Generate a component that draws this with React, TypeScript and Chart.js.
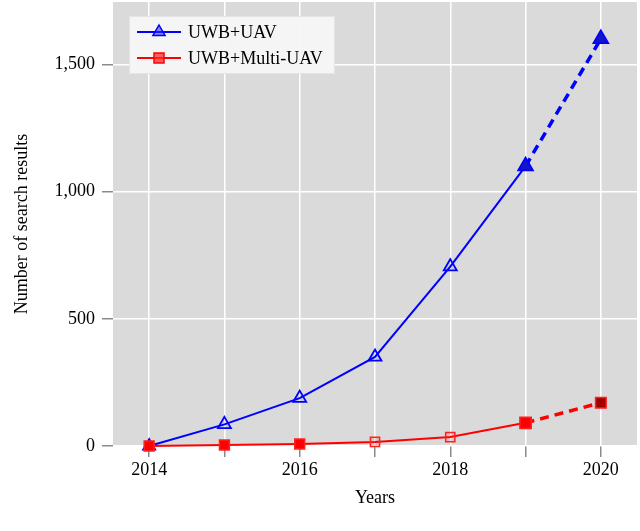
import React, { useEffect, useRef } from 'react';
import Chart from 'chart.js/auto';

const years = [2014, 2015, 2016, 2017, 2018, 2019, 2020];
const uwbUav = [0, 85, 188, 350, 705, 1100, 1600];
const uwbMultiUav = [0, 4, 8, 16, 35, 91, 170];
const yTicks = [0, 500, 1000, 1500];
const seriesNames = ['UWB+UAV', 'UWB+Multi-UAV'];
const xTitle = 'Years';
const yTitle = 'Number of search results';

const FONT = "'Liberation Serif', 'Times New Roman', serif";

// gray plot background, like pgfplots
const backgroundPlugin = {
  id: 'plotBackground',
  beforeDraw(chart: any) {
    const { ctx, chartArea } = chart;
    ctx.save();
    ctx.fillStyle = '#dadada';
    ctx.fillRect(chartArea.left, chartArea.top, chartArea.right - chartArea.left, chartArea.bottom - chartArea.top);
    ctx.restore();
  },
};

// legend box drawn inside the plot
const boxLegendPlugin = {
  id: 'boxLegend',
  afterDraw(chart: any) {
    const { ctx, chartArea } = chart;
    const x0 = chartArea.left + 16;
    const y0 = chartArea.top + 14;
    ctx.save();
    ctx.fillStyle = 'rgba(246,246,246,0.96)';
    ctx.fillRect(x0, y0, 206, 58);
    ctx.strokeStyle = '#e4e4e4';
    ctx.lineWidth = 1;
    ctx.strokeRect(x0 + 0.5, y0 + 0.5, 205, 57);

    chart.data.datasets.forEach((ds: any, i: number) => {
      const y = y0 + 16 + i * 26;
      const lx1 = x0 + 8;
      const lx2 = x0 + 52;
      const mx = (lx1 + lx2) / 2;
      ctx.strokeStyle = ds.borderColor;
      ctx.lineWidth = 2;
      ctx.setLineDash([]);
      ctx.beginPath();
      ctx.moveTo(lx1, y);
      ctx.lineTo(lx2, y);
      ctx.stroke();
      ctx.lineWidth = 1.5;
      ctx.fillStyle = i === 0 ? 'rgba(40,40,255,0.55)' : 'rgba(255,40,40,0.75)';
      ctx.beginPath();
      if (ds.pointStyle === 'triangle') {
        const r = 7;
        ctx.moveTo(mx, y - r);
        ctx.lineTo(mx + r * 0.866, y + r * 0.5);
        ctx.lineTo(mx - r * 0.866, y + r * 0.5);
        ctx.closePath();
      } else {
        ctx.rect(mx - 5, y - 5, 10, 10);
      }
      ctx.fill();
      ctx.stroke();
      ctx.fillStyle = '#000';
      ctx.font = `18px ${FONT}`;
      ctx.textBaseline = 'middle';
      ctx.textAlign = 'left';
      ctx.fillText(ds.label, x0 + 59, y + 1);
    });
    ctx.restore();
  },
};

const dashedLast = (ctx: any) => (ctx.p0DataIndex === years.length - 2 ? [9, 6] : undefined);
const thickLast = (ctx: any) => (ctx.p0DataIndex === years.length - 2 ? 3.5 : undefined);

const App = () => {
  const canvasRef = useRef<HTMLCanvasElement | null>(null);
  const chartRef = useRef<Chart | null>(null);

  useEffect(() => {
    document.body.style.margin = '0';
    const canvas = canvasRef.current;
    if (!canvas) return;
    const ctx = canvas.getContext('2d');
    if (!ctx) return;

    if (chartRef.current) chartRef.current.destroy();

    chartRef.current = new Chart(ctx, {
      type: 'line',
      data: {
        datasets: [
          {
            label: seriesNames[0],
            data: years.map((y, i) => ({ x: y, y: uwbUav[i] })),
            borderColor: '#0000ff',
            borderWidth: 2,
            pointStyle: 'triangle',
            pointRadius: [7, 7.5, 7.5, 7.5, 7.5, 8.5, 8.5],
            pointBorderWidth: 1.8,
            pointBorderColor: '#0000ff',
            pointBackgroundColor: ['#0000ff', 'rgba(0,0,255,0.08)', 'rgba(0,0,255,0.08)', 'rgba(0,0,255,0.08)', 'rgba(0,0,255,0.08)', '#1515c8', '#1515c8'],
            segment: { borderDash: dashedLast, borderWidth: thickLast },
            clip: false,
            order: 1,
          },
          {
            label: seriesNames[1],
            data: years.map((y, i) => ({ x: y, y: uwbMultiUav[i] })),
            borderColor: '#ff0000',
            borderWidth: 2,
            pointStyle: 'rect',
            pointRadius: [7, 7, 7, 6.5, 6.5, 8, 7.5],
            pointBorderWidth: 1.5,
            pointBorderColor: '#ff2020',
            pointBackgroundColor: ['#ff0000', '#ff0000', '#ff0000', 'rgba(255,0,0,0.12)', 'rgba(255,0,0,0.12)', '#ff0000', '#a00000'],
            segment: { borderDash: dashedLast, borderWidth: thickLast },
            clip: false,
            order: 0,
          },
        ],
      },
      options: {
        animation: false,
        responsive: false,
        layout: { autoPadding: false, padding: { top: 2, right: 3, left: 0, bottom: 0 } },
        plugins: {
          legend: { display: false },
          tooltip: { enabled: false },
        },
        scales: {
          x: {
            type: 'linear',
            min: 2013.52,
            max: 2020.48,
            afterFit: (scale: any) => {
              scale.height = 85;
              scale.paddingLeft = 0;
              scale.paddingRight = 0;
            },
            afterBuildTicks: (scale: any) => {
              scale.ticks = years.map((v) => ({ value: v }));
            },
            border: { display: false },
            grid: {
              color: '#ffffff',
              lineWidth: 1.5,
              tickColor: '#8a8a8a',
              tickLength: 11,
              tickWidth: 1.5,
            },
            ticks: {
              autoSkip: false,
              maxRotation: 0,
              padding: 2,
              color: '#000',
              font: { family: FONT, size: 18 },
              callback: (v: any) => (Number(v) % 2 === 0 ? String(v) : ''),
            },
            title: {
              display: true,
              text: xTitle,
              color: '#000',
              font: { family: FONT, size: 18 },
              padding: { top: 0, bottom: 22 },
            },
          },
          y: {
            type: 'linear',
            min: 0,
            max: 1745,
            afterFit: (scale: any) => {
              scale.width = 113;
              scale.paddingTop = 0;
              scale.paddingBottom = 0;
            },
            afterBuildTicks: (scale: any) => {
              scale.ticks = yTicks.map((v) => ({ value: v }));
            },
            border: { display: false },
            grid: {
              color: '#ffffff',
              lineWidth: 1.5,
              tickColor: '#8a8a8a',
              tickLength: 11,
              tickWidth: 1.5,
            },
            ticks: {
              padding: 7,
              color: '#000',
              font: { family: FONT, size: 18 },
              callback: (v: any) => Number(v).toLocaleString('en-US'),
            },
            title: {
              display: true,
              text: yTitle,
              color: '#000',
              font: { family: FONT, size: 18 },
              padding: { top: 11, bottom: 0 },
            },
          },
        },
      },
      plugins: [backgroundPlugin, boxLegendPlugin],
    });

    return () => {
      if (chartRef.current) {
        chartRef.current.destroy();
        chartRef.current = null;
      }
    };
  }, []);

  return (
    <div style={{ width: 640, height: 531, background: '#fff' }}>
      <canvas ref={canvasRef} width={640} height={531}></canvas>
    </div>
  );
};

export default App;
